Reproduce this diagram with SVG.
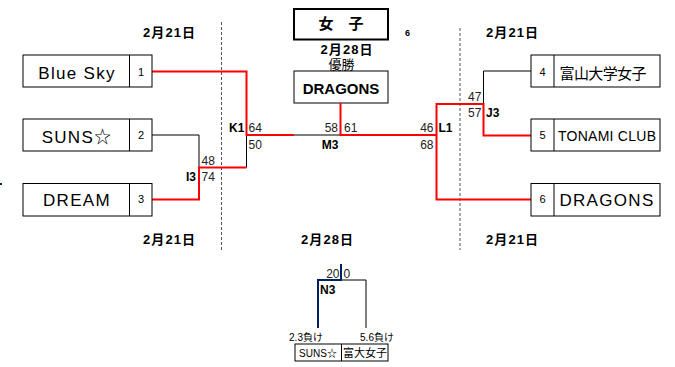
<svg xmlns="http://www.w3.org/2000/svg" width="675" height="367" viewBox="0 0 675 367">
<style>
text{font-family:"Liberation Sans","Noto Sans CJK JP",sans-serif;fill:#000}
.box{fill:#fff;stroke:#000;stroke-width:1}
.name{font-size:17px;text-anchor:middle;letter-spacing:1.3px}
.num{font-size:11px;text-anchor:middle}
.sc{font-size:12px;fill:#222}
.lb{font-size:12px;font-weight:bold}
.hd{font-size:13px;font-weight:bold;text-anchor:middle}
.red{fill:none;stroke:#f00;stroke-width:2}
.blk{fill:none;stroke:#000;stroke-width:1}
.nav{fill:none;stroke:#002060;stroke-width:2}
.dash{stroke:#555;stroke-width:1;stroke-dasharray:3,2}
</style>
<rect width="675" height="367" fill="#fff"/>
<g id="guides">
<line class="dash" x1="221.5" y1="22" x2="221.5" y2="250"/>
<line class="dash" x1="460" y1="28" x2="460" y2="250"/>
<rect x="0" y="183" width="2" height="2" fill="#002060"/>
</g>
<g id="headings">
<text class="hd" x="169" y="37" textLength="52">2月21日</text>
<text class="hd" x="512" y="37" textLength="52">2月21日</text>
<text class="hd" x="169" y="244" textLength="52">2月21日</text>
<text class="hd" x="512" y="244" textLength="52">2月21日</text>
<text class="hd" x="327" y="244" textLength="52">2月28日</text>
</g>
<g id="title">
<rect x="294" y="9" width="94" height="30.5" fill="#fff" stroke="#000" stroke-width="2"/>
<text x="341" y="29" font-size="15" font-weight="bold" text-anchor="middle">女　子</text>
<text x="407.5" y="36" font-size="9" font-weight="bold" text-anchor="middle">6</text>
<text class="hd" x="346.5" y="54" textLength="52">2月28日</text>
<text x="341.5" y="69" font-size="13" text-anchor="middle" fill="#333">優勝</text>
</g>
<g id="winner">
<rect class="box" x="294" y="71" width="94" height="32"/>
<text x="341" y="94" font-size="15" font-weight="bold" text-anchor="middle">DRAGONS</text>
</g>
<g id="connectors">
<path class="blk" d="M294,135 H340.5"/>
<path class="blk" d="M152,135 H199 V167.5"/>
<path class="blk" d="M246.5,135 V167.5"/>
<path class="blk" d="M531,71 H483.5 V104"/>
<path class="red" d="M152,71.5 H246.5 V135 H294"/>
<path class="red" d="M152,199.5 H199 V167.5 H246.5"/>
<path class="red" d="M340.5,103 V135 H436.5"/>
<path class="red" d="M531,199.5 H436.5 V104 H483.5 V135.5 H531"/>
<path class="blk" d="M341,280 H366 V328"/>
<path class="nav" d="M341,264 V280 H318 V328"/>
</g>
<g id="team1">
<rect class="box" x="23" y="55" width="129" height="32"/>
<line class="blk" x1="129.5" y1="55" x2="129.5" y2="87"/>
<text class="name" x="77" y="79">Blue Sky</text>
<text class="num" x="141" y="76">1</text>
</g>
<g id="team2">
<rect class="box" x="23" y="119" width="129" height="32"/>
<line class="blk" x1="129.5" y1="119" x2="129.5" y2="151"/>
<text class="name" x="77" y="143">SUNS☆</text>
<text class="num" x="141" y="139">2</text>
</g>
<g id="team3">
<rect class="box" x="23" y="183.5" width="129" height="32.5"/>
<line class="blk" x1="129.5" y1="183.5" x2="129.5" y2="216"/>
<text class="name" x="77" y="206">DREAM</text>
<text class="num" x="141" y="203">3</text>
</g>
<g id="team4">
<rect class="box" x="531" y="55" width="129" height="32"/>
<line class="blk" x1="554" y1="55" x2="554" y2="87"/>
<text x="603" y="79" font-size="15" text-anchor="middle" textLength="87">富山大学女子</text>
<text class="num" x="542.5" y="76">4</text>
</g>
<g id="team5">
<rect class="box" x="531" y="119" width="129" height="32"/>
<line class="blk" x1="554" y1="119" x2="554" y2="151"/>
<text x="607" y="141" font-size="14" text-anchor="middle" textLength="98">TONAMI CLUB</text>
<text class="num" x="542.5" y="139">5</text>
</g>
<g id="team6">
<rect class="box" x="531" y="183.5" width="129" height="32.5"/>
<line class="blk" x1="554" y1="183.5" x2="554" y2="216"/>
<text class="name" x="607" y="206">DRAGONS</text>
<text class="num" x="542.5" y="203">6</text>
</g>
<g id="scores">
<text class="sc" x="201.5" y="165">48</text>
<text class="sc" x="201.5" y="181">74</text>
<text class="lb" x="196" y="181" text-anchor="end">I3</text>
<text class="lb" x="229" y="132">K1</text>
<text class="sc" x="248.5" y="132">64</text>
<text class="sc" x="248.5" y="149">50</text>
<text class="sc" x="338" y="132" text-anchor="end">58</text>
<text class="sc" x="344" y="132">61</text>
<text class="lb" x="330" y="149" text-anchor="middle">M3</text>
<text class="sc" x="433.5" y="132" text-anchor="end">46</text>
<text class="sc" x="433.5" y="149" text-anchor="end">68</text>
<text class="lb" x="438.5" y="132">L1</text>
<text class="sc" x="468" y="101">47</text>
<text class="sc" x="468" y="117">57</text>
<text class="lb" x="486" y="117">J3</text>
</g>
<g id="n3">
<text class="sc" x="339.5" y="277.5" text-anchor="end">20</text>
<text class="sc" x="343.5" y="277.5">0</text>
<text class="lb" x="320" y="294">N3</text>
<text x="306" y="340.5" font-size="10" text-anchor="middle">2.3負け</text>
<text x="377" y="340.5" font-size="10" text-anchor="middle">5.6負け</text>
<rect class="box" x="295" y="344" width="93" height="17"/>
<line class="blk" x1="341.5" y1="344" x2="341.5" y2="361"/>
<text x="318" y="356.5" font-size="10" text-anchor="middle">SUNS☆</text>
<text x="365" y="356.5" font-size="11" text-anchor="middle">富大女子</text>
</g>
</svg>
